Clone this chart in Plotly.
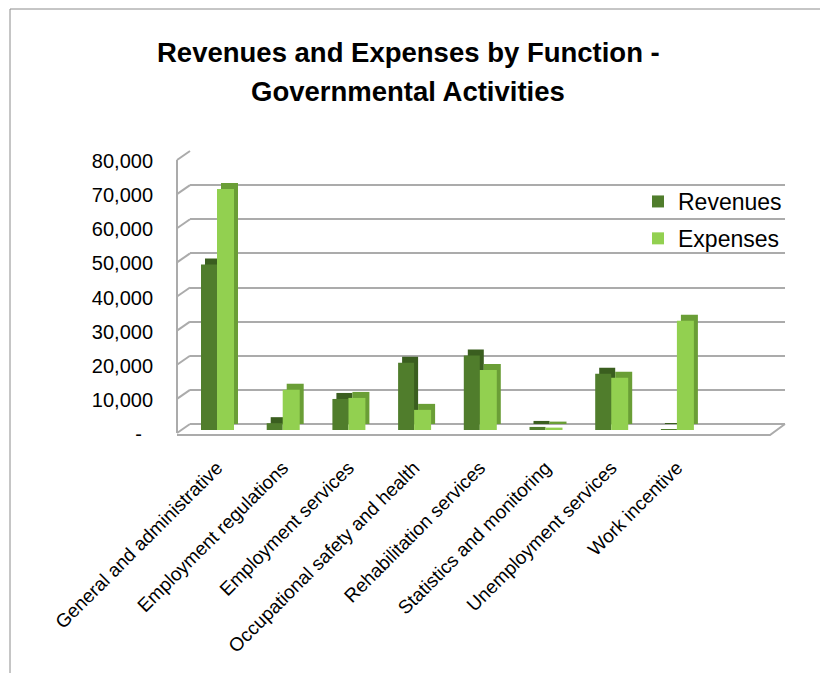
import plotly.graph_objects as go

categories = ["General and administrative", "Employment regulations", "Employment services",
              "Occupational safety and health", "Rehabilitation services",
              "Statistics and monitoring", "Unemployment services", "Work incentive"]
revenues = [48500, 2000, 9100, 19700, 21800, 900, 16500, 250]
expenses = [70600, 11800, 9400, 5900, 17600, 700, 15300, 32000]
y_tickvals = [0, 10000, 20000, 30000, 40000, 50000, 60000, 70000, 80000]
y_ticktext = ["-\u00a0\u00a0", "10,000", "20,000", "30,000", "40,000", "50,000",
              "60,000", "70,000", "80,000"]

FONT = "Liberation Sans, Arial, sans-serif"
W, H = 820, 673
PL, PR, PT, PB = 190, 785, 151, 430          # plot area in pixels
CAT_PX = 65.7                                # pixels per category
FIRST_PX = 217                               # pixel of first category
DEPTH = 1758                                 # 3D depth shift (value units)
YMAX = 80000
x0 = -(FIRST_PX - PL) / CAT_PX
x1 = x0 + (PR - PL) / CAT_PX
u = 1 / CAT_PX                               # one pixel in category units

def fx(px):
    return (px - PL) / (PR - PL)

def fy(py):
    return (PB - py) / (PB - PT)

def yp(v):
    return (v + DEPTH) / (YMAX + DEPTH)

fig = go.Figure()

series = [
    ("Revenues", revenues, "#507D2C", "#3A5E1F", -16, 16),
    ("Expenses", expenses, "#92D050", "#6A9E36", 0, 17),
]
for name, vals, front, side, off, wid in series:
    # side / top face (back plane), shifted right
    fig.add_trace(go.Bar(x=categories, y=vals, base=[0] * len(vals),
                         offset=(off + 4) * u, width=wid * u,
                         marker=dict(color=side, line=dict(width=0)),
                         showlegend=False, hoverinfo="skip"))
    # front face (front plane)
    fig.add_trace(go.Bar(x=categories, y=vals, base=[-DEPTH] * len(vals),
                         offset=off * u, width=wid * u, name=name,
                         legendgroup=name,
                         marker=dict(color=front, line=dict(width=0))))

shapes = []
grid_col = "#ABABAB"
# left wall
wall_dx = fx(177)
stub_dy = 9 / (PB - PT)
shapes.append(dict(type="line", xref="paper", yref="paper",
                   x0=wall_dx, x1=wall_dx, y0=yp(0) - stub_dy, y1=yp(YMAX) - stub_dy,
                   line=dict(color=grid_col, width=2)))
for v in y_tickvals:
    shapes.append(dict(type="line", xref="paper", yref="paper",
                       x0=wall_dx, x1=0, y0=yp(v) - stub_dy, y1=yp(v),
                       line=dict(color=grid_col, width=2)))
# floor front edge
shapes.append(dict(type="path", xref="paper", yref="paper",
                   path=f"M {fx(177)} {fy(435)} L {fx(770)} {fy(435)} L {fx(785)} {yp(0)}",
                   line=dict(color=grid_col, width=2)))
# outer frame
shapes.append(dict(type="path", xref="paper", yref="paper",
                   path=f"M {fx(10)} {fy(673)} L {fx(10)} {fy(9)} L {fx(820)} {fy(9)}",
                   line=dict(color="#8C8C8C", width=1)))

annotations = [
    dict(text="<b>Revenues and Expenses by Function -</b>", xref="paper", yref="paper",
         x=fx(408), y=fy(52), xanchor="center", yanchor="middle", showarrow=False,
         font=dict(family=FONT, size=27.5, color="black")),
    dict(text="<b>Governmental Activities</b>", xref="paper", yref="paper",
         x=fx(408), y=fy(91), xanchor="center", yanchor="middle", showarrow=False,
         font=dict(family=FONT, size=27.5, color="black")),
]

fig.update_layout(
    width=W, height=H,
    margin=dict(l=PL, r=W - PR, t=PT, b=H - PB, pad=0),
    paper_bgcolor="white", plot_bgcolor="white",
    barmode="overlay",
    showlegend=True,
    legend=dict(x=fx(638), y=fy(180), xanchor="left", yanchor="top",
                font=dict(family=FONT, size=23, color="black"),
                bgcolor="rgba(0,0,0,0)", traceorder="grouped", tracegroupgap=4),
    shapes=shapes,
    annotations=annotations,
    xaxis=dict(range=[x0, x1], showgrid=False, zeroline=False, showline=False,
               ticks="", tickangle=-45, ticklabelstandoff=22,
               tickfont=dict(family=FONT, size=19, color="black")),
    yaxis=dict(range=[-DEPTH, YMAX], tickvals=y_tickvals, ticktext=y_ticktext,
               showgrid=True, gridcolor=grid_col, gridwidth=2, zeroline=False,
               showline=False, ticks="", ticklabelstandoff=36, ticklabelshift=10,
               tickfont=dict(family=FONT, size=20, color="black")),
)

fig.write_html("out.html")
